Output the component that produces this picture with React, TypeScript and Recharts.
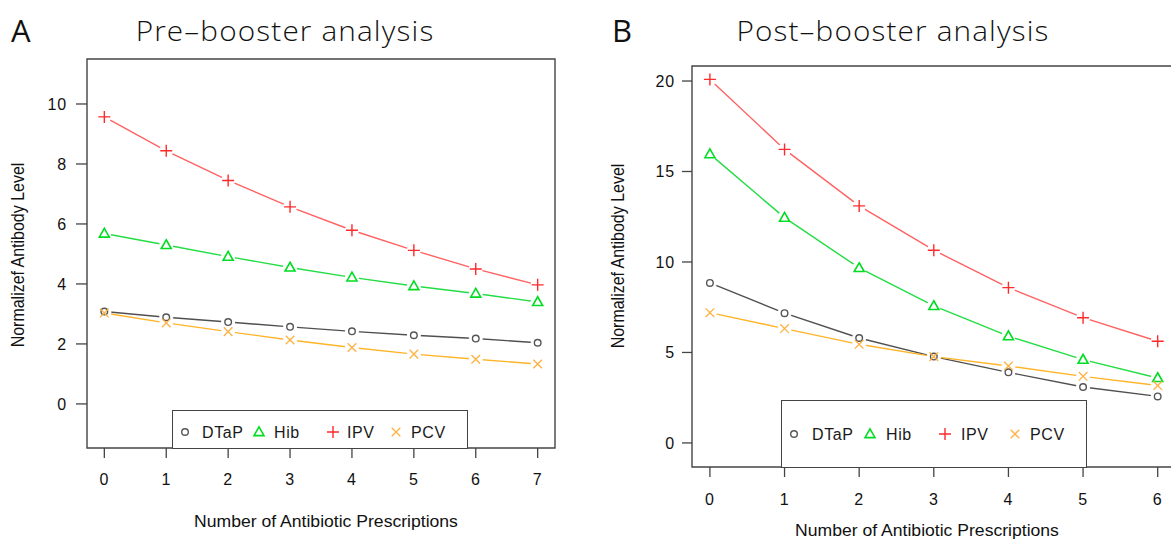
import React from 'react';
import { LineChart, Line, XAxis, YAxis, ReferenceArea } from 'recharts';

// ---------- data ----------
const preX = [0, 1, 2, 3, 4, 5, 6, 7];
const preDTaP = [3.08, 2.89, 2.73, 2.57, 2.42, 2.29, 2.18, 2.04];
const preHib = [5.68, 5.3, 4.91, 4.55, 4.22, 3.93, 3.68, 3.4];
const preIPV = [9.57, 8.44, 7.45, 6.57, 5.79, 5.12, 4.5, 3.97];
const prePCV = [3.03, 2.7, 2.41, 2.13, 1.88, 1.66, 1.49, 1.33];

const postX = [0, 1, 2, 3, 4, 5, 6];
const postDTaP = [8.84, 7.17, 5.8, 4.77, 3.9, 3.09, 2.57];
const postHib = [15.96, 12.45, 9.67, 7.57, 5.9, 4.6, 3.59];
const postIPV = [20.09, 16.22, 13.1, 10.65, 8.58, 6.92, 5.62];
const postPCV = [7.2, 6.32, 5.45, 4.77, 4.25, 3.68, 3.17];

const preYTicks = [0, 2, 4, 6, 8, 10];
const postYTicks = [0, 5, 10, 15, 20];
const seriesNames = ['DTaP', 'Hib', 'IPV', 'PCV'];

const titleA = 'Pre\u2013booster analysis';
const titleB = 'Post\u2013booster analysis';
const xTitle = 'Number of Antibiotic Prescriptions';
const yTitle = 'Normalizef Antibody Level';

const preData = preX.map((x, i) => ({ x, DTaP: preDTaP[i], Hib: preHib[i], IPV: preIPV[i], PCV: prePCV[i] }));
const postData = postX.map((x, i) => ({ x, DTaP: postDTaP[i], Hib: postHib[i], IPV: postIPV[i], PCV: postPCV[i] }));

type Shape = 'circle' | 'triangle' | 'plus' | 'cross';
const styles: Record<string, { line: string; mark: string; shape: Shape }> = {
  DTaP: { line: '#505050', mark: '#555555', shape: 'circle' },
  Hib: { line: '#22dd44', mark: '#00dd22', shape: 'triangle' },
  IPV: { line: '#ff6262', mark: '#ff2a2a', shape: 'plus' },
  PCV: { line: '#ffb428', mark: '#ffb040', shape: 'cross' },
};

const FONT = '"Liberation Sans", Arial, Helvetica, sans-serif';

function Marker({ shape, cx, cy, color }: { shape: Shape; cx: number; cy: number; color: string }) {
  if (cx == null || cy == null) return <g />;
  switch (shape) {
    case 'circle':
      return <circle cx={cx} cy={cy} r={3.3} fill="none" stroke={color} strokeWidth={1.4} />;
    case 'triangle':
      return (
        <path
          d={`M${cx},${cy - 5.2} L${cx + 5},${cy + 3.6} L${cx - 5},${cy + 3.6} Z`}
          fill="none"
          stroke={color}
          strokeWidth={1.6}
        />
      );
    case 'plus':
      return <path d={`M${cx - 6},${cy} H${cx + 6} M${cx},${cy - 6} V${cy + 6}`} stroke={color} strokeWidth={1.4} fill="none" />;
    default:
      return (
        <path
          d={`M${cx - 4.3},${cy - 4.3} L${cx + 4.3},${cy + 4.3} M${cx - 4.3},${cy + 4.3} L${cx + 4.3},${cy - 4.3}`}
          stroke={color}
          strokeWidth={1.3}
          fill="none"
        />
      );
  }
}

type PanelProps = {
  data: any[];
  xTicks: number[];
  yTicks: number[];
  xDomain: [number, number];
  yDomain: [number, number];
  width: number;
  height: number;
  margin: { top: number; right: number; bottom: number; left: number };
  yTickSize: number;
  yTickMargin: number;
  xTickMargin: number;
};

function Panel(p: PanelProps) {
  const tickStyle = { fill: '#111', fontSize: 16, fontFamily: FONT, letterSpacing: 0.8 };
  return (
    <LineChart width={p.width} height={p.height} data={p.data} margin={p.margin}>
      <XAxis
        type="number"
        dataKey="x"
        domain={p.xDomain}
        ticks={p.xTicks}
        interval={0}
        allowDataOverflow
        axisLine={false}
        tickLine={{ stroke: '#444', strokeWidth: 1.3 }}
        tickSize={10}
        tickMargin={p.xTickMargin}
        tick={tickStyle}
        height={50}
      />
      <YAxis
        type="number"
        domain={p.yDomain}
        ticks={p.yTicks}
        interval={0}
        allowDataOverflow
        axisLine={false}
        tickLine={{ stroke: '#444', strokeWidth: 1.3 }}
        tickSize={p.yTickSize}
        tickMargin={p.yTickMargin}
        tick={tickStyle}
        width={60}
      />
      <ReferenceArea
        x1={p.xDomain[0]}
        x2={p.xDomain[1]}
        y1={p.yDomain[0]}
        y2={p.yDomain[1]}
        fill="none"
        fillOpacity={0}
        stroke="#444"
        strokeWidth={1.4}
      />
      {seriesNames.map((k) => (
        <Line
          key={`l-${k}`}
          type="linear"
          dataKey={k}
          stroke={styles[k].line}
          strokeWidth={1.4}
          dot={false}
          activeDot={false}
          isAnimationActive={false}
          legendType="none"
        />
      ))}
      {seriesNames.map((k) => (
        <Line
          key={`g-${k}`}
          type="linear"
          dataKey={k}
          stroke="#ffffff"
          strokeOpacity={0}
          strokeWidth={1}
          dot={(d: any) => (
            <circle key={`g-${k}-${d.index}`} cx={d.cx} cy={d.cy} r={6.5} fill="#ffffff" fillOpacity={1} stroke="#ffffff" strokeOpacity={1} />
          )}
          activeDot={false}
          isAnimationActive={false}
          legendType="none"
        />
      ))}
      {seriesNames.map((k) => (
        <Line
          key={`m-${k}`}
          type="linear"
          dataKey={k}
          stroke="#ffffff"
          strokeOpacity={0}
          strokeWidth={1}
          dot={(d: any) => (
            <Marker key={`m-${k}-${d.index}`} shape={styles[k].shape} cx={d.cx} cy={d.cy} color={styles[k].mark} />
          )}
          activeDot={false}
          isAnimationActive={false}
          legendType="none"
        />
      ))}
    </LineChart>
  );
}

function LegendBox({ left, top, width, height, markX, textX, cy }: { left: number; top: number; width: number; height: number; markX: number[]; textX: number[]; cy: number }) {
  return (
    <div
      style={{
        position: 'absolute',
        left,
        top,
        width,
        height,
        boxSizing: 'border-box',
        border: '1.4px solid #444',
        background: '#fff',
      }}
    >
      <svg width={width} height={height} style={{ position: 'absolute', left: -1.4, top: -1.4, overflow: 'visible' }}>
        {seriesNames.map((k, i) => (
          <g key={k}>
            <Marker shape={styles[k].shape} cx={markX[i]} cy={cy} color={styles[k].mark} />
            <text x={textX[i]} y={cy} dominantBaseline="central" fontSize={16} fontFamily={FONT} fill="#1a1a1a" letterSpacing={0.6}>
              {k}
            </text>
          </g>
        ))}
      </svg>
    </div>
  );
}

export default function App() {
  return (
    <div
      style={{
        position: 'fixed',
        left: 0,
        top: 0,
        width: 1171,
        height: 540,
        overflow: 'hidden',
        background: '#fff',
        fontFamily: FONT,
      }}
    >
      <div style={{ position: 'absolute', left: 0, top: 0 }}>
        <Panel
          data={preData}
          xTicks={preX}
          yTicks={preYTicks}
          xDomain={[-0.28, 7.28]}
          yDomain={[-1.47, 11.5]}
          width={560}
          height={540}
          margin={{ top: 59, right: 5, bottom: 42, left: 27 }}
          yTickSize={11}
          yTickMargin={9}
          xTickMargin={16}
        />
      </div>
      <div style={{ position: 'absolute', left: 600, top: 0 }}>
        <Panel
          data={postData}
          xTicks={postX}
          yTicks={postYTicks}
          xDomain={[-0.24, 6.24]}
          yDomain={[-1.33, 20.83]}
          width={580}
          height={540}
          margin={{ top: 66, right: 4.4, bottom: 23, left: 32 }}
          yTickSize={10}
          yTickMargin={7}
          xTickMargin={17}
        />
      </div>

      <LegendBox left={172} top={410} width={296} height={39} markX={[13, 87, 161, 224]} textX={[30, 102, 175, 239]} cy={22} />
      <LegendBox left={781} top={400} width={306} height={68} markX={[13, 89, 164, 234]} textX={[31, 105, 180, 249]} cy={34} />

      <svg width={1171} height={540} style={{ position: 'absolute', left: 0, top: 0, pointerEvents: 'none' }}>
        <text x={11} y={42} fontSize={31} fontFamily='"Open Sans", sans-serif' fill="#111">A</text>
        <text x={612} y={42} fontSize={31} fontFamily='"Open Sans", sans-serif' fill="#111">B</text>
        <text transform="translate(285,41) scale(1.1,1)" textAnchor="middle" fontSize={27} fontWeight={300} fontFamily='"Open Sans", sans-serif' fill="#111" letterSpacing={1.05}>
          {titleA}
        </text>
        <text transform="translate(893,41) scale(1.1,1)" textAnchor="middle" fontSize={27} fontWeight={300} fontFamily='"Open Sans", sans-serif' fill="#111" letterSpacing={1.05}>
          {titleB}
        </text>
        <text transform="translate(326,527) scale(1.1,1)" textAnchor="middle" fontSize={16} fontFamily={FONT} fill="#111">
          {xTitle}
        </text>
        <text transform="translate(927,536) scale(1.1,1)" textAnchor="middle" fontSize={16} fontFamily={FONT} fill="#111">
          {xTitle}
        </text>
        <text transform="translate(24,255) rotate(-90) scale(1,1.1)" textAnchor="middle" fontSize={16} fontFamily={FONT} fill="#111">
          {yTitle}
        </text>
        <text transform="translate(624,256) rotate(-90) scale(1,1.1)" textAnchor="middle" fontSize={16} fontFamily={FONT} fill="#111">
          {yTitle}
        </text>
      </svg>
    </div>
  );
}
